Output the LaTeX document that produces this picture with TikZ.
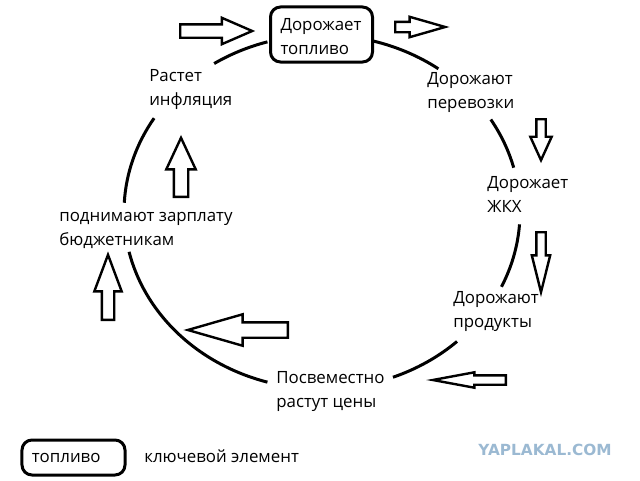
\documentclass[tikz,border=0pt]{standalone}
\usepackage{fontspec}
\setmainfont{Open Sans}
\newfontfamily\markfont{DejaVu Sans}
\usepackage{tikz}
\usetikzlibrary{shapes.arrows}
\definecolor{markblue}{RGB}{155,185,210}

\begin{document}
\begin{tikzpicture}[
    x=0.25mm, y=-0.25mm,
    label/.style={anchor=base west, inner sep=0, align=left, font=\fontsize{12}{16.7}\selectfont},
    keybox/.style={rectangle, draw, line width=0.75mm, rounded corners=2.5mm, inner sep=0, align=left, font=\fontsize{12}{16.7}\selectfont},
    ring/.style={line width=0.75mm},
    blockarrow/.style={single arrow, draw, fill=white, line width=0.6mm, anchor=tail, inner xsep=0}
]
    \useasboundingbox (0,0) rectangle (640,480);

    % Circle of prices
    \coordinate (ctr) at (322,212);
    \draw[ring] (ctr) ++(-123:198 and 177) arc[start angle=-123, end angle=-106, x radius=198, y radius=177];
    \draw[ring] (ctr) ++(-75:198 and 177) arc[start angle=-75, end angle=-54, x radius=198, y radius=177];
    \draw[ring] (ctr) ++(-31.5:198 and 177) arc[start angle=-31.5, end angle=-14.5, x radius=198, y radius=177];
    \draw[ring] (ctr) ++(4:198 and 177) arc[start angle=4, end angle=25, x radius=198, y radius=177];
    \draw[ring] (ctr) ++(47:198 and 177) arc[start angle=47, end angle=69, x radius=198, y radius=177];
    \draw[ring] (ctr) ++(106:198 and 177) arc[start angle=106, end angle=167, x radius=198, y radius=177];
    \draw[ring] (ctr) ++(183:198 and 177) arc[start angle=183, end angle=212, x radius=198, y radius=177];

    % Key element
    \node[keybox, fill=white, minimum width=25.5mm, minimum height=13.75mm, text width=20.5mm] (fuel) at (321.5,34.5) {\rule{0pt}{11.7pt}Дорожает\\топливо};

    % Stages (anchored at the baseline of the last line)
    \node[label] (transport) at (427,108) {Дорожают\\перевозки};
    \node[label] (housing) at (487,212) {Дорожает\\ЖКХ};
    \node[label] (food) at (453,327) {Дорожают\\продукты};
    \node[label] (prices) at (276,407) {Посвеместно\\растут цены};
    \node[label] (salary) at (59,245) {поднимают зарплату\\бюджетникам};
    \node[label] (inflation) at (149,105) {Растет\\инфляция};

    % Block arrows
    \node[blockarrow, minimum height=18mm, inner ysep=1.375mm, single arrow head extend=1.625mm, single arrow tip angle=47] (arrfuel) at (179,31) {};
    \node[blockarrow, minimum height=12.5mm, inner ysep=1mm, single arrow head extend=1.25mm, single arrow tip angle=32] (arrtransport) at (394,27) {};
    \node[blockarrow, rotate=-90, minimum height=10.25mm, inner ysep=0.875mm, single arrow head extend=1.5mm, single arrow tip angle=49] (arrhousing) at (541,118) {};
    \node[blockarrow, rotate=-90, minimum height=15mm, inner ysep=0.875mm, single arrow head extend=1.125mm, single arrow tip angle=28] (arrfood) at (541,231) {};
    \node[blockarrow, rotate=180, minimum height=18.25mm, inner ysep=0.875mm, single arrow head extend=0.75mm, single arrow tip angle=21] (arrprices) at (507,380) {};
    \node[blockarrow, rotate=180, minimum height=25mm, inner ysep=1.625mm, single arrow head extend=2mm, single arrow tip angle=32] (arrsalary) at (289,330) {};
    \node[blockarrow, rotate=90, minimum height=16.25mm, inner ysep=1.25mm, single arrow head extend=1.875mm, single arrow tip angle=41] (arrup) at (108,321) {};
    \node[blockarrow, rotate=90, minimum height=14.75mm, inner ysep=1.5mm, single arrow head extend=1.875mm, single arrow tip angle=50] (arrinflation) at (181,198) {};

    % Legend
    \node[keybox, minimum width=25.75mm, minimum height=8.75mm, text width=20.75mm] (legendbox) at (73.5,457.5) {топливо};
    \node[label] (legendtext) at (144,462) {ключевой элемент};

    % Watermark
    \node[inner sep=0, font=\markfont\bfseries\fontsize{10.9}{12}\selectfont, text=markblue] (watermark) at (545,450) {YAPLAKAL.COM};

\end{tikzpicture}
\end{document}
